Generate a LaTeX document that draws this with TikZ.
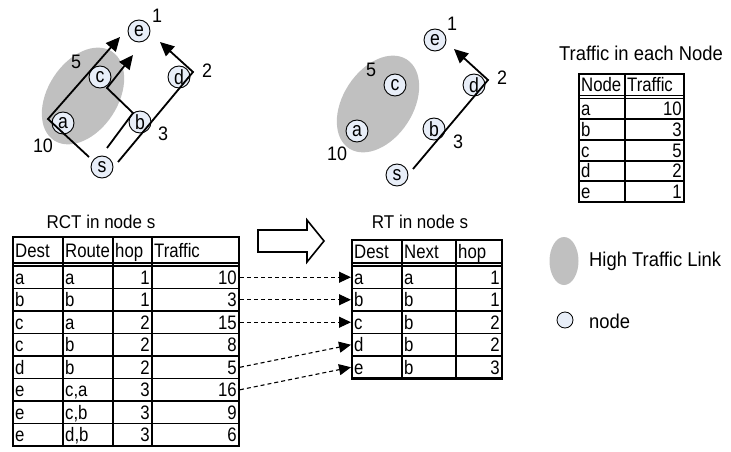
\documentclass[tikz,border=0pt]{standalone}
\usepackage{fontspec}
\setmainfont[FakeStretch=0.92]{Liberation Sans}
\newfontfamily\cellfont[FakeStretch=0.86]{Liberation Sans}
\usetikzlibrary{arrows.meta}
\definecolor{nodefill}{RGB}{232,238,248}
\definecolor{hitraffic}{RGB}{192,192,192}
\begin{document}
\begin{tikzpicture}[x=1pt,y=-1pt,
  gnode/.style={circle,draw=black,line width=0.9pt,fill=nodefill,minimum size=22pt,inner sep=0pt,font=\cellfont\fontsize{20.5}{20.5}\selectfont},
  glabel/.style={font=\fontsize{19.5}{19.5}\selectfont,inner sep=0pt},
  ttl/.style={font=\fontsize{20}{20}\selectfont,inner sep=0pt},
  subttl/.style={font=\fontsize{18.5}{18.5}\selectfont,inner sep=0pt},
  cell/.style={font=\cellfont\fontsize{19.5}{19.5}\selectfont,inner sep=0pt},
  cellL/.style={cell,anchor=base west},
  cellR/.style={cell,anchor=base east},
  route/.style={line width=1.8pt,line join=miter,line cap=butt},
  routearrow/.style={route,-{Triangle[length=14pt,width=13pt]}},
  dasharrow/.style={line width=1.1pt,dash pattern=on 4pt off 3pt,-{Triangle[length=12pt,width=11pt]}},
  tblout/.style={line width=2.4pt},
  tblin/.style={line width=1.8pt},
  tbldbl/.style={line width=1.1pt}
]
\useasboundingbox (0,0) rectangle (731,452);

% ---------------- left graph ----------------
\fill[hitraffic, rotate around={57:(83,96)}] (83,96) ellipse [x radius=53pt, y radius=35pt];
\node[gnode] (Le) at (139,31) {e};
\node[gnode] (Lc) at (100,77) {c};
\node[gnode] (Ld) at (179,77) {d};
\node[gnode] (La) at (63,123) {a};
\node[gnode] (Lb) at (140,122) {b};
\node[gnode] (Ls) at (102,167) {s};
\node[glabel] (Ll1) at (157,16) {1};
\node[glabel] (Ll5) at (76,62) {5};
\node[glabel] (Ll2) at (207,71) {2};
\node[glabel] (Ll10) at (43,146) {10};
\node[glabel] (Ll3) at (163,134) {3};
\coordinate (LAs) at (89,157);
\coordinate (LAk) at (48,119);
\coordinate (LAt) at (120,37);
\coordinate (LBs) at (107,148);
\coordinate (LBk) at (133,113);
\coordinate (LBm) at (107,88);
\coordinate (LBt) at (133,55);
\coordinate (LCs) at (118,162);
\coordinate (LCk) at (193,72);
\coordinate (LCt) at (160,42);
\draw[routearrow] (LAs) -- (LAk) -- (LAt);
\draw[routearrow] (LBs) -- (LBk) -- (LBm) -- (LBt);
\draw[routearrow] (LCs) -- (LCk) -- (LCt);

% ---------------- right graph ----------------
\fill[hitraffic, rotate around={57:(378,104)}] (378,104) ellipse [x radius=53pt, y radius=35pt];
\node[gnode] (Re) at (435,40) {e};
\node[gnode] (Rc) at (395,85) {c};
\node[gnode] (Rd) at (474,85) {d};
\node[gnode] (Ra) at (357,131) {a};
\node[gnode] (Rb) at (434,129) {b};
\node[gnode] (Rs) at (397,175) {s};
\node[glabel] (Rl1) at (452,24) {1};
\node[glabel] (Rl5) at (371,70) {5};
\node[glabel] (Rl2) at (502,78) {2};
\node[glabel] (Rl10) at (337,154) {10};
\node[glabel] (Rl3) at (458,142) {3};
\coordinate (RCs) at (413,169);
\coordinate (RCk) at (488,80);
\coordinate (RCt) at (454,49);
\draw[routearrow] (RCs) -- (RCk) -- (RCt);

% ---------------- traffic table ----------------
\node[ttl] (ttlT) at (641,53) {Traffic in each Node};
\draw[tblin] (625,74) -- (625,202);
\foreach \yy in {119.2,139.9,160.6,181.3} \draw[tblin] (579,\yy) -- (684,\yy);
\draw[tbldbl] (579,95.5) -- (684,95.5) (579,98.6) -- (684,98.6);
\draw[tblout] (579,74) rectangle (684,202);
\node[cellL] (tn-h1) at (581,91.5) {Node};
\node[cellL] (tn-h2) at (627,91.5) {Traffic};
\foreach \n/\v [count=\i] in {a/10,b/3,c/5,d/2,e/1}{
  \node[cellL] (tn-\i-1) at (581,{98.5+20.7*(\i-0.5)+7}) {\n};
  \node[cellR] (tn-\i-2) at (682,{98.5+20.7*(\i-0.5)+7}) {\v};
}

% ---------------- RCT table ----------------
\node[subttl] (ttlRCT) at (101,222) {RCT in node s};
\foreach \xx in {63,113,152} \draw[tblin] (\xx,237) -- (\xx,446);
\foreach \k in {1,...,7} \draw[tblin] (13,{266+22.5*\k}) -- (239,{266+22.5*\k});
\draw[tbldbl] (13,263) -- (239,263) (13,266) -- (239,266);
\draw[tblout] (13,237) rectangle (239,446);
\node[cellL] (rct-h1) at (15,257.5) {Dest};
\node[cellL] (rct-h2) at (65,257.5) {Route};
\node[cellL] (rct-h3) at (115,257.5) {hop};
\node[cellL] (rct-h4) at (154,257.5) {Traffic};
\foreach \d/\r/\h/\t [count=\i] in {a/a/1/10,b/b/1/3,c/a/2/15,c/b/2/8,d/b/2/5,e/{c,a}/3/16,e/{c,b}/3/9,e/{d,b}/3/6}{
  \node[cellL] (rct-\i-1) at (15,{266+22.5*(\i-0.5)+7}) {\d};
  \node[cellL] (rct-\i-2) at (65,{266+22.5*(\i-0.5)+7}) {\r};
  \node[cellR] (rct-\i-3) at (150,{266+22.5*(\i-0.5)+7}) {\h};
  \node[cellR] (rct-\i-4) at (237,{266+22.5*(\i-0.5)+7}) {\t};
}

% ---------------- big hollow arrow ----------------
\draw[line width=1.6pt,fill=white,line join=miter] (258,230) -- (307,230) -- (307,220) -- (324,241) -- (307,262) -- (307,252) -- (258,252) -- cycle;

% ---------------- RT table ----------------
\node[subttl] (ttlRT) at (420,222) {RT in node s};
\foreach \xx in {402,456} \draw[tblin] (\xx,240) -- (\xx,378.5);
\foreach \k in {1,...,4} \draw[tblin] (352,{266+22.5*\k}) -- (502,{266+22.5*\k});
\draw[tbldbl] (352,263) -- (502,263) (352,266) -- (502,266);
\draw[tblout] (352,240) rectangle (502,378.5);
\node[cellL] (rt-h1) at (354,258.5) {Dest};
\node[cellL] (rt-h2) at (404,258.5) {Next};
\node[cellL] (rt-h3) at (458,258.5) {hop};
\foreach \d/\n/\h [count=\i] in {a/a/1,b/b/1,c/b/2,d/b/2,e/b/3}{
  \node[cellL] (rt-\i-1) at (354,{266+22.5*(\i-0.5)+7}) {\d};
  \node[cellL] (rt-\i-2) at (404,{266+22.5*(\i-0.5)+7}) {\n};
  \node[cellR] (rt-\i-3) at (500,{266+22.5*(\i-0.5)+7}) {\h};
}

% ---------------- dashed arrows ----------------
\coordinate (o1) at (240,277.25);
\coordinate (o2) at (240,299.75);
\coordinate (o3) at (240,322.25);
\coordinate (o5) at (240,367.25);
\coordinate (o6) at (240,389.75);
\coordinate (i1) at (351,277.25);
\coordinate (i2) at (351,299.75);
\coordinate (i3) at (351,322.25);
\coordinate (i4) at (351,344.75);
\coordinate (i5) at (351,367.25);
\draw[dasharrow] (o1) -- (i1);
\draw[dasharrow] (o2) -- (i2);
\draw[dasharrow] (o3) -- (i3);
\draw[dasharrow] (o5) -- (i4);
\draw[dasharrow] (o6) -- (i5);

% ---------------- legend ----------------
\fill[hitraffic] (564,261) ellipse [x radius=14.5pt, y radius=24pt];
\node[ttl,anchor=west] (legHT) at (589,261) {High Traffic Link};
\node[gnode,minimum size=16pt,line width=0.8pt] (legN) at (565,320) {};
\node[ttl,anchor=west] (legNT) at (589,321) {node};
\end{tikzpicture}
\end{document}
